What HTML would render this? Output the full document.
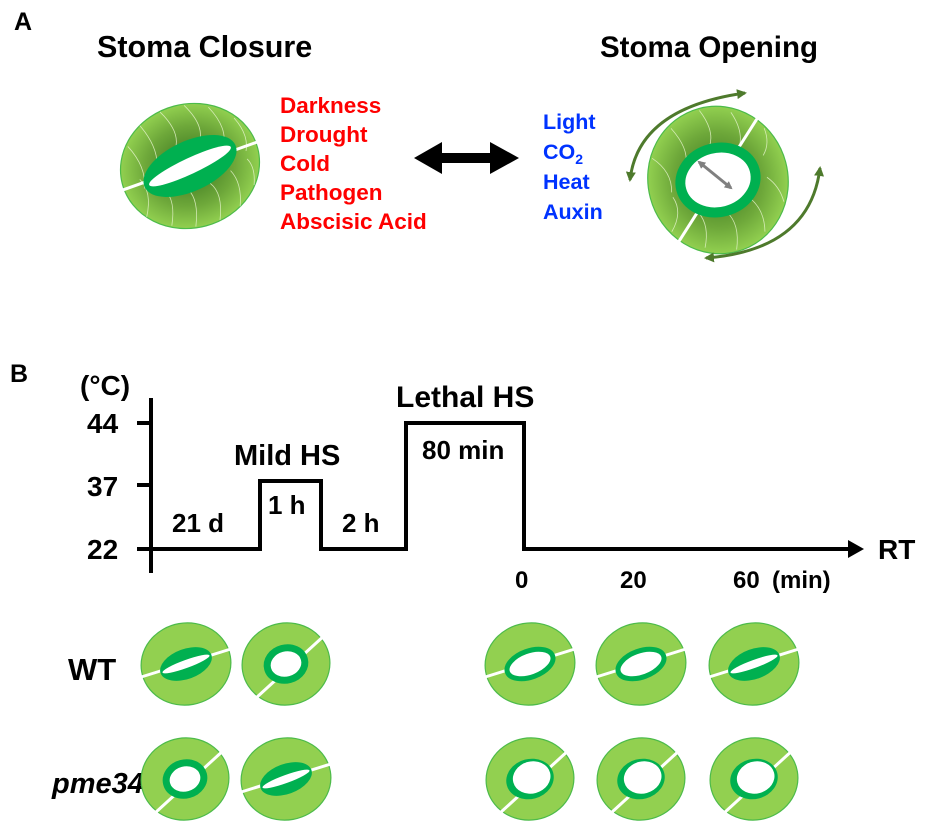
<!DOCTYPE html>
<html><head><meta charset="utf-8"><style>
html,body{margin:0;padding:0;background:#fff;}
svg{display:block;font-family:"Liberation Sans",Arial,sans-serif;font-weight:bold;}
</style></head><body>
<svg width="926" height="828" viewBox="0 0 926 828">
<defs>
<radialGradient id="gg" cx="50%" cy="50%" r="50%">
<stop offset="0.3" stop-color="#4f8a2a"/><stop offset="0.65" stop-color="#6ea83a"/><stop offset="1" stop-color="#92d050"/>
</radialGradient>
<marker id="ahs" markerWidth="10" markerHeight="10" refX="8" refY="5" orient="auto-start-reverse" markerUnits="userSpaceOnUse">
<path d="M0,0 L10,5 L0,10 Z" fill="#4e7a2c"/></marker>
<marker id="gh" markerWidth="8" markerHeight="8" refX="6" refY="4" orient="auto-start-reverse" markerUnits="userSpaceOnUse">
<path d="M0,0 L8,4 L0,8 Z" fill="#808080"/></marker>
<g id="baseC"><ellipse rx="45" ry="41" fill="#92d050" stroke="#4cbb4a" stroke-width="1.2" transform="rotate(-10)"/><line x1="-48" y1="14" x2="48" y2="-16" stroke="#fff" stroke-width="3"/></g>
<g id="baseO"><ellipse rx="44" ry="41" fill="#92d050" stroke="#4cbb4a" stroke-width="1.2" transform="rotate(-10)"/><line x1="-30" y1="34" x2="40" y2="-30" stroke="#fff" stroke-width="3"/></g>
<g id="closed"><use href="#baseC"/><ellipse rx="27" ry="15" fill="#00b050" transform="rotate(-20)"/><ellipse rx="25" ry="4" fill="#fff" transform="rotate(-20)"/></g>
<g id="open"><use href="#baseO"/><ellipse rx="19" ry="16" fill="#fff" stroke="#00b050" stroke-width="7" transform="rotate(-15)"/></g>
<g id="part"><use href="#baseC"/><ellipse rx="24" ry="13" fill="#fff" stroke="#00b050" stroke-width="5" transform="rotate(-20)"/></g>
<g id="open2"><use href="#baseO"/><ellipse rx="24" ry="20" fill="#00b050" transform="rotate(-15)"/><ellipse cx="2" cy="-1" rx="19" ry="16" fill="#fff" transform="rotate(-15)"/></g>
</defs>

<text x="14" y="30" font-size="25">A</text>
<text x="97" y="57" font-size="30.5">Stoma Closure</text>
<text x="600" y="57" font-size="29.5">Stoma Opening</text>

<!-- closure stoma -->
<g transform="translate(190,166) rotate(-15)">
<ellipse rx="70" ry="62" fill="url(#gg)" stroke="#4cbb4a" stroke-width="1.2"/>
<g fill="none" stroke="#e8f5d0" stroke-width="0.8" opacity="0.8">
<path d="M-55,-35 Q-42,-10 -50,10"/><path d="M-38,-52 Q-25,-25 -33,-5"/><path d="M-15,-60 Q0,-35 -10,-20"/><path d="M10,-60 Q25,-35 15,-20"/><path d="M33,-52 Q46,-28 38,-12"/><path d="M55,-35 Q65,-15 58,0"/>
<path d="M-55,38 Q-43,15 -52,0"/><path d="M-33,53 Q-23,30 -30,18"/><path d="M-10,60 Q0,35 -8,22"/><path d="M15,60 Q25,35 15,22"/><path d="M38,52 Q46,30 38,15"/><path d="M57,35 Q63,18 57,8"/>
</g>
<line x1="-74" y1="6" x2="74" y2="-6" stroke="#fff" stroke-width="3"/>
<ellipse rx="50" ry="25" fill="#00b050" transform="rotate(-10)"/>
<ellipse rx="45" ry="8" fill="#fff" transform="rotate(-10)"/>
</g>

<g font-size="22.5" fill="#ff0000">
<text x="280" y="113">Darkness</text><text x="280" y="142">Drought</text><text x="280" y="171">Cold</text><text x="280" y="200">Pathogen</text><text x="280" y="229">Abscisic Acid</text>
</g>
<path d="M414,158 L442,142 L442,153 L490,153 L490,142 L519,158 L490,174 L490,163 L442,163 L442,174 Z" fill="#000"/>
<g font-size="21.5" fill="#0033ff">
<text x="543" y="129">Light</text><text x="543" y="159">CO<tspan font-size="14" dy="5">2</tspan></text><text x="543" y="189">Heat</text><text x="543" y="219">Auxin</text>
</g>

<!-- opening stoma -->
<g transform="translate(718,180) rotate(-15)">
<ellipse rx="70" ry="74" fill="url(#gg)" stroke="#4cbb4a" stroke-width="1.2"/>
<g fill="none" stroke="#e8f5d0" stroke-width="0.8" opacity="0.8">
<path d="M-58,-38 Q-42,-20 -48,0"/><path d="M-32,-62 Q-20,-38 -27,-24"/><path d="M0,-72 Q10,-48 0,-34"/><path d="M30,-62 Q37,-42 30,-28"/><path d="M58,-38 Q60,-22 50,-12"/>
<path d="M-58,38 Q-42,22 -48,5"/><path d="M-30,62 Q-20,42 -27,27"/><path d="M0,72 Q10,48 0,33"/><path d="M32,62 Q37,42 27,27"/><path d="M58,38 Q58,22 48,10"/>
</g>
<line x1="-10" y1="76" x2="10" y2="-76" stroke="#fff" stroke-width="3" transform="rotate(40)"/>
<ellipse rx="38" ry="32" fill="#fff" stroke="#00b050" stroke-width="10"/>
</g>
<line x1="699" y1="162" x2="731" y2="188" stroke="#808080" stroke-width="3" marker-start="url(#gh)" marker-end="url(#gh)"/>
<path d="M630,180 Q638,108 745,93" fill="none" stroke="#4e7a2c" stroke-width="3" marker-start="url(#ahs)" marker-end="url(#ahs)"/>
<path d="M820,168 Q810,250 706,258" fill="none" stroke="#4e7a2c" stroke-width="3" marker-start="url(#ahs)" marker-end="url(#ahs)"/>

<!-- B -->
<text x="10" y="382" font-size="25">B</text>
<g font-size="28">
<text x="80" y="395">(°C)</text>
<text x="87" y="433">44</text><text x="87" y="496">37</text><text x="87" y="559">22</text>
</g>
<g stroke="#000" stroke-width="4" fill="none">
<line x1="151" y1="398" x2="151" y2="573"/>
<line x1="137" y1="423" x2="151" y2="423"/><line x1="137" y1="485" x2="151" y2="485"/><line x1="137" y1="549" x2="151" y2="549"/>
<polyline points="151,549 260,549 260,481 321,481 321,549 406,549 406,423 524,423 524,549 852,549" stroke-linejoin="miter"/>
</g>
<path d="M848,540 L864,549 L848,558 Z" fill="#000"/>
<g font-size="26">
<text x="234" y="465" font-size="29">Mild HS</text>
<text x="396" y="407" font-size="30">Lethal HS</text>
<text x="422" y="459">80 min</text>
<text x="268" y="514">1 h</text>
<text x="172" y="532">21 d</text>
<text x="342" y="532">2 h</text>
<text x="878" y="559" font-size="28">RT</text>
<text x="515" y="588" font-size="24">0</text><text x="620" y="588" font-size="24">20</text><text x="733" y="588" font-size="24">60</text><text x="772" y="588" font-size="24">(min)</text>
</g>
<text x="68" y="680" font-size="31">WT</text>
<text x="52" y="793" font-size="29" font-style="italic">pme34</text>

<use href="#closed" x="186" y="664"/>
<use href="#open" x="286" y="664"/>
<use href="#part" x="530" y="664"/>
<use href="#part" x="641" y="664"/>
<use href="#closed" x="754" y="664"/>
<use href="#open" x="185" y="779"/>
<use href="#closed" x="286" y="779"/>
<use href="#open2" x="530" y="779"/>
<use href="#open2" x="641" y="779"/>
<use href="#open2" x="754" y="779"/>
</svg>
</body></html>
